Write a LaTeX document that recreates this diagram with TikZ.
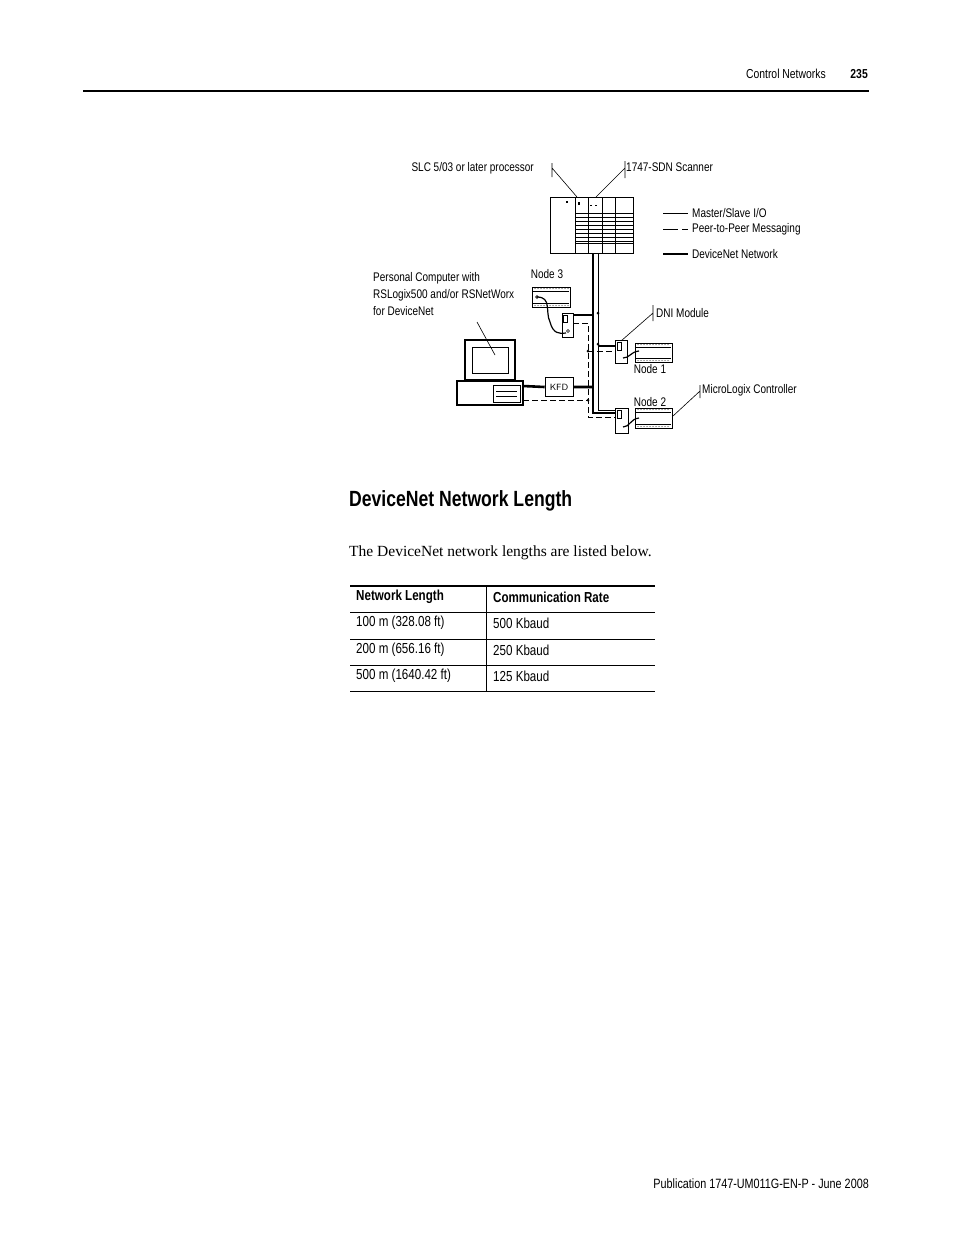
\documentclass[tikz,border=0pt]{standalone}
\usepackage{fontspec}
\setmainfont{Liberation Serif}
\newfontfamily\cond[FakeStretch=0.8]{Liberation Sans}
\usetikzlibrary{positioning}

\begin{document}
\begin{tikzpicture}[x=1pt, y=-1pt, font=\cond,
    lbl/.style={font=\cond\fontsize{12.5}{15}\selectfont, inner sep=0pt},
    tbl/.style={font=\cond\fontsize{14.5}{17}\selectfont, inner sep=0pt, anchor=west},
    bus/.style={line width=2.6pt},
    msg/.style={dashed, dash pattern=on 6pt off 3pt, line width=0.7pt},
    thin/.style={line width=0.6pt}]

    \useasboundingbox (0,0) rectangle (954,1235);
    \fill[white] (0,0) rectangle (954,1235);

    % --- Page header ---
    \node[lbl, font=\cond\fontsize{13}{15}\selectfont, anchor=east] (hdr) at (826,74) {Control Networks};
    \node[lbl, font=\cond\bfseries\fontsize{13}{15}\selectfont, anchor=east] (pg) at (868,74) {235};
    \draw[line width=2.6pt] (83,91) -- (869,91);

    % --- SLC rack ---
    \draw[thin] (550,197) rectangle (633,253);
    \foreach \x in {575,588,602,615} \draw[thin] (\x,197) -- (\x,253);
    \foreach \y in {213,217,221,225,229,233,237,241} \draw[line width=0.4pt] (575,\y) -- (633,\y);
    \draw[line width=0.4pt] (575,243) -- (633,243);
    \fill (566,201) rectangle (568,203);
    \fill (578,202) rectangle (580,205);
    \fill (590,205) rectangle (592,206);
    \fill (595,205) rectangle (597,206);
    \coordinate (rack) at (593,253);

    % labels of the rack
    \node[lbl, anchor=east] (slc) at (534,168) {SLC 5/03 or later processor};
    \draw[thin] (552,163) -- (552,177) (552,168) -- (577,197);
    \node[lbl, anchor=west] (sdn) at (626,167) {1747-SDN Scanner};
    \draw[thin] (625,161) -- (625,178) (625,168) -- (596,197);

    % --- Legend ---
    \draw[thin] (663,213) -- (688,213);
    \node[lbl, anchor=west] (lgA) at (692,213) {Master/Slave I/O};
    \draw[thin] (663,229) -- (678,229) (682,229) -- (688,229);
    \node[lbl, anchor=west] (lgB) at (692,229) {Peer-to-Peer Messaging};
    \draw[line width=2.6pt] (663,254) -- (688,254);
    \node[lbl, anchor=west] (lgC) at (692,254) {DeviceNet Network};

    % --- Node 3 and its DNI ---
    \draw[thin] (532,287) rectangle (570,307);
    \draw[line width=0.4pt] (533,291) -- (569,291) (533,303) -- (569,303);
    \foreach \x in {535,538,...,568} {\fill (\x,288.5) circle (0.5); \fill (\x,305.5) circle (0.5);}
    \node[lbl] (n3) at (547,274) {Node 3};
    \draw[thin] (562,313) rectangle (573,337);
    \draw[thin] (563,315) rectangle (567,322);
    \draw[thin] (568,331) circle (1.5);
    \draw[line width=1.2pt] (537,297) .. controls (552,297) and (545,312) .. (550,322) .. controls (553,334) and (560,334) .. (566,333);
    \draw[thin] (537,297) circle (1.4);

    % --- Node 1 and its DNI ---
    \draw[thin] (615,340) rectangle (627,363);
    \draw[thin] (617,342) rectangle (621,350);
    \draw[thin] (635,343) rectangle (672,362);
    \draw[line width=0.4pt] (636,347) -- (671,347) (636,358) -- (671,358);
    \foreach \x in {638,641,...,670} {\fill (\x,344.5) circle (0.5); \fill (\x,360.5) circle (0.5);}
    \draw[line width=1.2pt] (623,358) .. controls (630,358) and (630,352) .. (639,351);
    \node[lbl] (n1) at (650,369) {Node 1};
    \node[lbl, anchor=west] (dni) at (656,313) {DNI Module};
    \draw[thin] (653,305) -- (653,321) (653,313) -- (621,341);

    % --- Node 2 and its DNI ---
    \draw[thin] (615,408) rectangle (628,433);
    \draw[thin] (617,410) rectangle (621,418);
    \draw[thin] (635,408) rectangle (672,428);
    \draw[line width=0.4pt] (636,412) -- (671,412) (636,424) -- (671,424);
    \foreach \x in {638,641,...,670} {\fill (\x,409.5) circle (0.5); \fill (\x,426.5) circle (0.5);}
    \draw[line width=1.2pt] (623,427) .. controls (630,427) and (630,419) .. (639,418);
    \node[lbl] (n2) at (650,402) {Node 2};
    \node[lbl, anchor=west] (mlx) at (702,390) {MicroLogix Controller};
    \draw[thin] (700,385) -- (700,398) (700,391) -- (673,416);

    % --- Personal computer ---
    \draw[line width=1.6pt] (465,340) rectangle (515,380);
    \draw[thin] (472,347) rectangle (508,373);
    \draw[line width=1.4pt] (457,381) rectangle (523,405);
    \draw[thin] (493,385) rectangle (520,402);
    \draw[thin] (496,391) -- (517,391) (496,396) -- (517,396);
    \node[lbl, anchor=west, align=left, font=\cond\fontsize{12.5}{17}\selectfont] (pc) at (373,294) {Personal Computer with\\RSLogix500 and/or RSNetWorx\\for DeviceNet};
    \draw[thin] (477,322) -- (495,355);

    % --- KFD ---
    \node[draw, thin, minimum width=28pt, minimum height=19pt, inner sep=0pt,
          font=\sffamily\fontsize{9}{10}\selectfont] (kfd) at (559,387) {KFD};

    % --- DeviceNet trunk and drops ---
    \draw[bus] (rack) -- (593,413) -- (615,413);
    \draw[thin] (598,253) -- (598,410) -- (615,410);
    \draw[bus] (573,315) -- (593,315);
    \draw[bus] (598,346) -- (615,346);
    \draw[bus] (523,386) -- (kfd.west) (kfd.east) -- (593,387);
    \fill (598,313) circle (1.5) (598,344) circle (1.5);

    % --- Peer-to-peer messaging ---
    \draw[msg] (573,323) -- (588,323) -- (588,417) -- (615,417);
    \draw[msg] (588,351) -- (615,351);
    \draw[msg] (523,400) -- (588,400);
    \fill (588,351) circle (1.5) (588,400) circle (1.5);

    % --- Section text ---
    \node[font=\cond\bfseries\fontsize{22}{26}\selectfont, anchor=west, inner sep=0pt] (title) at (349,501) {DeviceNet Network Length};
    \node[font=\fontsize{15.5}{18}\selectfont, anchor=west, inner sep=0pt] (body) at (349,553) {The DeviceNet network lengths are listed below.};

    % --- Table ---
    \draw[line width=1.6pt] (350,586) -- (655,586);
    \draw[thin] (350,612) -- (655,612) (350,639) -- (655,639) (350,665) -- (655,665) (350,691) -- (655,691);
    \draw[thin] (486,586) -- (486,691);
    \node[tbl, font=\cond\bfseries\fontsize{14.5}{17}\selectfont] (h1) at (356,597) {Network Length};
    \node[tbl, font=\cond\bfseries\fontsize{14.5}{17}\selectfont] (h2) at (493,597) {Communication Rate};
    \node[tbl] (r1a) at (356,623) {100 m (328.08 ft)};
    \node[tbl] (r1b) at (493,623) {500 Kbaud};
    \node[tbl] (r2a) at (356,650) {200 m (656.16 ft)};
    \node[tbl] (r2b) at (493,650) {250 Kbaud};
    \node[tbl] (r3a) at (356,676) {500 m (1640.42 ft)};
    \node[tbl] (r3b) at (493,676) {125 Kbaud};

    % --- Footer ---
    \node[lbl, font=\cond\fontsize{13.5}{16}\selectfont, anchor=east] (foot) at (869,1184) {Publication 1747-UM011G-EN-P - June 2008};

\end{tikzpicture}
\end{document}
